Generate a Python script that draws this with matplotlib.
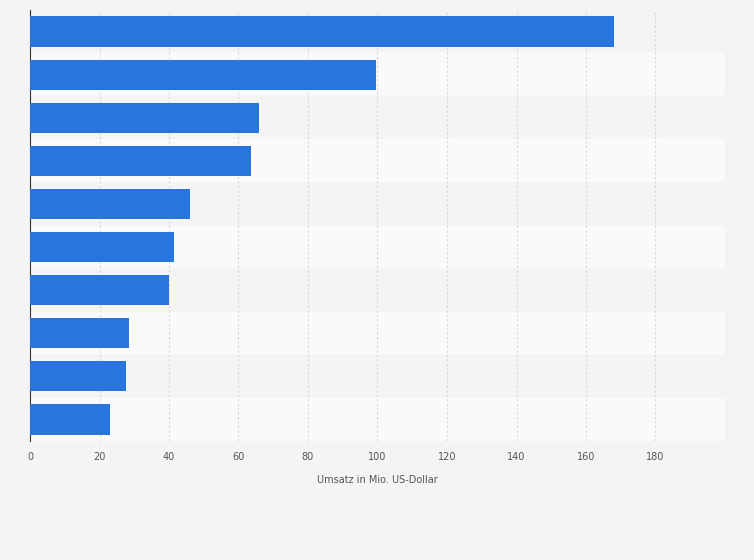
import numpy as np
import matplotlib
matplotlib.use("Agg")
import matplotlib.pyplot as plt

werte = [168, 99.5, 66, 63.5, 46, 41.5, 40, 28.5, 27.5, 23]
x_ticks = [0, 20, 40, 60, 80, 100, 120, 140, 160, 180]

fig = plt.figure(figsize=(7.54, 5.60), dpi=100)
fig.patch.set_facecolor("#f4f4f4")
ax = fig.add_axes([30 / 754, 1 - 441 / 560, 695 / 754, 431 / 560])
ax.set_facecolor("#f4f4f4")

n = len(werte)
y = np.arange(n)
for i in y:
    ax.axhspan(i - 0.5, i + 0.5, color="#f4f4f4" if i % 2 == 0 else "#fafafa", zorder=0)

ax.barh(y, werte, height=0.7, color="#2876dd", zorder=3)
ax.set_ylim(n - 0.5, -0.5)
ax.set_xlim(0, 200)
ax.set_xticks(x_ticks)
ax.set_xticklabels([str(t) for t in x_ticks], fontsize=7, color="#555555")
ax.set_yticks([])
ax.tick_params(axis="x", length=0, pad=8)
for t in x_ticks[1:] + [200]:
    ax.axvline(t, color="#d8d8d8", linestyle=(0, (2, 2)), linewidth=0.8, zorder=1)
for s in ["top", "right", "bottom"]:
    ax.spines[s].set_visible(False)
ax.spines["left"].set_color("#333333")
ax.set_xlabel("Umsatz in Mio. US-Dollar", fontsize=7, color="#555555", labelpad=9)

fig.savefig("out.png", dpi=100, facecolor=fig.get_facecolor())
